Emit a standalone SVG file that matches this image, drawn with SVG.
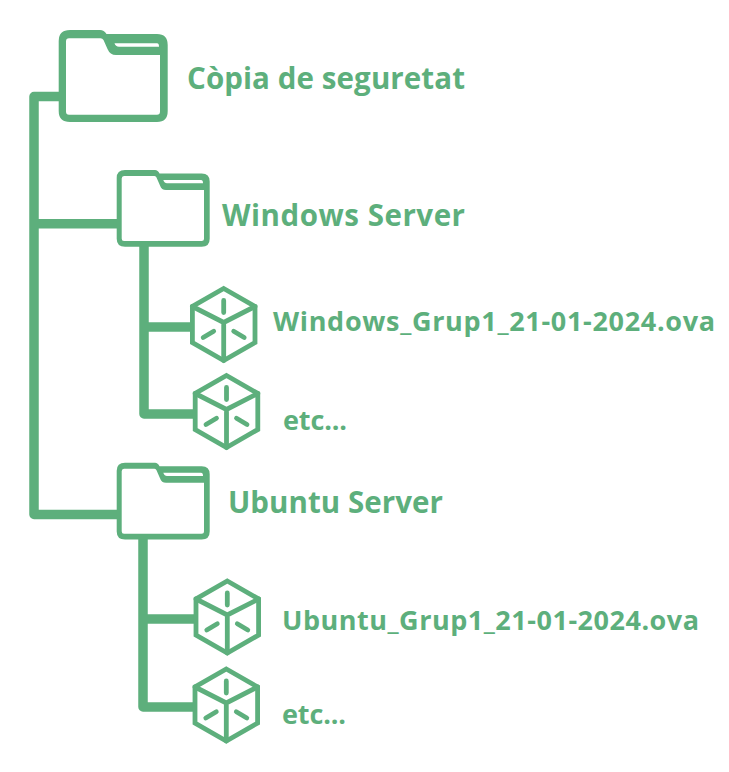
<svg xmlns="http://www.w3.org/2000/svg" width="729" height="772" viewBox="0 0 729 772">
<style>
.c{fill:none;stroke:#5DAF7C;stroke-linecap:round;stroke-linejoin:miter}
.f{fill:#5DAF7C;fill-rule:evenodd}
.t{fill:#5DAF7C;font-family:"Open Sans","Noto Sans",sans-serif;font-weight:700}
.l{font-size:29.5px}.m{font-size:29.5px}.s{font-size:27px}
</style>
<defs>
<g id="cube" class="c" stroke-width="4.8">
<path d="M0-36L31.300-18V18L0 36L-31.300 18V-18Z"/>
<path d="M-31.300-18L0-2L31.300-18M0-2V36"/>
<path d="M0-24V-12M-20.500 13L-10 6.800M10 6.800L20.500 13"/>
</g>
<path id="folder-small" class="f" d="M125 170H155Q158 170 159.500 173.500H201.700Q209.700 173.500 209.700 181.500V238.700Q209.700 246.700 201.700 246.700H125Q116.700 246.700 116.700 238.700V178Q116.700 170 125 170ZM124 176Q121.700 176 121.700 178.500V238.500Q121.700 241 124 241H201.500Q204 241 204 238.500V190H166Q161.500 190 160 185.500L156.500 177.500Q156 176 154.500 176ZM163.300 180Q164.500 183.300 167 183.300H203Q203 180 201 180Z"/>
</defs>
<rect width="729" height="772" fill="#fff"/>
<g id="connectors" class="c" style="stroke-linecap:butt;stroke-linejoin:round" stroke-width="9.500">
<path d="M62 96.500H34V514.500H119"/>
<path d="M34 223.700H119"/>
<path d="M144 245V414H195"/>
<path d="M144 327H191"/>
<path d="M143 538V707H195"/>
<path d="M143 619H195"/>
</g>
<g id="folder-root">
<path class="f" d="M70 30H100Q104 30 106.500 34H157Q167.700 34 167.700 45V111Q167.700 122 157 122H70Q58.700 122 58.700 111V41Q58.700 30 70 30ZM69 38.300Q66 38.300 66 41.500V111.500Q66 114.800 69 114.800H157Q160 114.800 160 111.500V55H116Q110 55 107.500 49L103.500 40Q102.500 38.300 100.500 38.300ZM114.500 43.300Q115.500 46.700 119 46.700H159Q159 43.300 157 43.300Z"/>
<text class="t l" x="187" y="89" textLength="278">Còpia de seguretat</text>
</g>
<g id="folder-windows">
<use href="#folder-small"/>
<text class="t m" x="222" y="225.500" textLength="243">Windows Server</text>
</g>
<g id="file-windows-1">
<use href="#cube" x="223.700" y="324.500"/>
<text class="t s" x="273" y="331" textLength="442">Windows_Grup1_21-01-2024.ova</text>
</g>
<g id="file-windows-2">
<use href="#cube" x="226.500" y="411.500"/>
<text class="t s" x="283" y="429.500" textLength="64">etc...</text>
</g>
<g id="folder-ubuntu">
<use href="#folder-small" y="292.700"/>
<text class="t m" x="228" y="512.500" textLength="215">Ubuntu Server</text>
</g>
<g id="file-ubuntu-1">
<use href="#cube" x="227.300" y="617"/>
<text class="t s" x="282" y="629.500" textLength="417">Ubuntu_Grup1_21-01-2024.ova</text>
</g>
<g id="file-ubuntu-2">
<use href="#cube" x="226.300" y="705"/>
<text class="t s" x="282" y="723.500" textLength="64">etc...</text>
</g>
</svg>
